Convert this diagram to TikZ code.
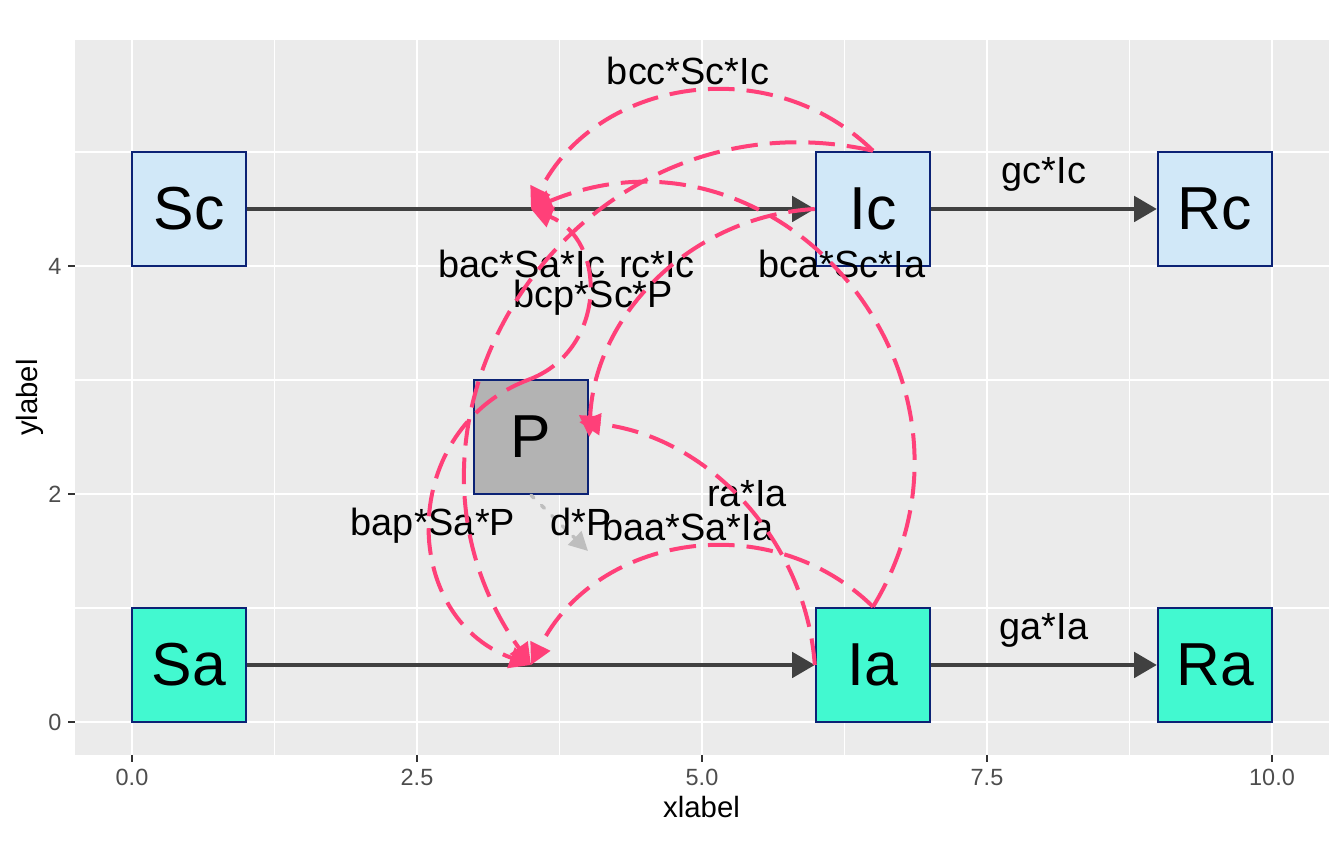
\documentclass[tikz,border=0pt]{standalone}
\usepackage{fontspec}
\setmainfont{Liberation Sans}
\usetikzlibrary{arrows.meta}
\definecolor{panel}{HTML}{EBEBEB}
\definecolor{cfill}{HTML}{D1E8F8}
\definecolor{afill}{HTML}{42F9D0}
\definecolor{pfill}{HTML}{B3B3B3}
\definecolor{rim}{HTML}{0B2275}
\definecolor{flowgrey}{HTML}{404040}
\definecolor{rosy}{HTML}{FF4079}
\definecolor{decaygrey}{HTML}{BEBEBE}
\definecolor{ticktext}{HTML}{4D4D4D}
\definecolor{tickline}{HTML}{333333}
\tikzset{
  comp/.style={draw=rim,line width=0.9pt,minimum size=42.75pt,inner sep=0pt,font=\fontsize{22.76}{25}\selectfont},
  flowarrow/.style={draw=flowgrey,line width=1.5pt,-{Triangle[length=8.5pt,width=9.5pt]}},
  inter/.style={draw=rosy,line width=1.5pt,dash pattern=on 10pt off 4.5pt,-{Triangle[length=8pt,width=8pt]}},
  decayline/.style={draw=decaygrey,line width=1.3pt,line cap=round,dash pattern=on 1.5pt off 4pt,-{Triangle[length=7pt,width=7pt]}},
  rate/.style={font=\fontsize{14.2}{16}\selectfont,anchor=base,inner sep=0pt},
  ticklab/.style={font=\fontsize{8.8}{10}\selectfont,text=ticktext,inner sep=0pt},
  axtitle/.style={font=\fontsize{11}{13}\selectfont,anchor=base,inner sep=0pt},
}
\begin{document}
\begin{tikzpicture}[x=42.75pt,y=42.75pt]
\useasboundingbox (-1.1579,-1.2544) rectangle (10.6316,6.3333);
% panel and grid
\fill[panel] (-0.5,-0.2895) rectangle (10.5,5.982);
\foreach \g in {1.25,3.75,6.25,8.75} \draw[white,line width=0.55pt] (\g,-0.2895) -- (\g,5.982);
\foreach \g in {1,3,5} \draw[white,line width=0.55pt] (-0.5,\g) -- (10.5,\g);
\foreach \g in {0,2.5,5,7.5,10} \draw[white,line width=1.1pt] (\g,-0.2895) -- (\g,5.982);
\foreach \g in {0,2,4} \draw[white,line width=1.1pt] (-0.5,\g) -- (10.5,\g);
% axes
\foreach \g/\t in {0/0.0,2.5/2.5,5/5.0,7.5/7.5,10/10.0} {
  \draw[tickline,line width=0.8pt] (\g,-0.2895) -- ++(0,-2.75pt);
  \node[ticklab,anchor=base] at (\g,-0.553) {\t};
}
\foreach \g in {0,2,4} {
  \draw[tickline,line width=0.8pt] (-0.5,\g) -- ++(-2.75pt,0);
  \node[ticklab,anchor=east] at (-0.614,\g) {\g};
}
\node[axtitle] (xt) at (4.996,-0.842) {xlabel};
\node[axtitle,rotate=90] (yt) at (-0.833,2.846) {ylabel};
% compartments
\node[comp,fill=cfill] (Sc) at (0.5,4.5) {Sc};
\node[comp,fill=cfill] (Ic) at (6.5,4.5) {Ic};
\node[comp,fill=cfill] (Rc) at (9.5,4.5) {Rc};
\node[comp,fill=pfill] (P) at (3.5,2.5) {P};
\node[comp,fill=afill] (Sa) at (0.5,0.5) {Sa};
\node[comp,fill=afill] (Ia) at (6.5,0.5) {Ia};
\node[comp,fill=afill] (Ra) at (9.5,0.5) {Ra};
% flows
\draw[flowarrow] (Sc) -- (Ic);
\draw[flowarrow] (Ic) -- (Rc);
\draw[flowarrow] (Sa) -- (Ia);
\draw[flowarrow] (Ia) -- (Ra);
\coordinate (mc) at (3.5,4.5);
\coordinate (ma) at (3.5,0.5);
\coordinate (dz) at (4,1.5);
\draw[decayline] (P.south) -- (dz);
% rate labels
\node[rate] (lgc) at (8,4.72) {gc*Ic};
\node[rate] (lga) at (8,0.72) {ga*Ia};
\node[rate] (lbcc) at (4.877,5.588) {bcc*Sc*Ic};
\node[rate] (lbac) at (3.421,3.895) {bac*Sa*Ic};
\node[rate] (lrc) at (4.605,3.895) {rc*Ic};
\node[rate] (lbca) at (6.228,3.895) {bca*Sc*Ia};
\node[rate] (lbcp) at (4.044,3.640) {bcp*Sc*P};
\node[rate] (lbap) at (2.640,1.640) {bap*Sa*P};
\node[rate] (ldp) at (3.939,1.640) {d*P};
\node[rate] (lbaa) at (4.877,1.596) {baa*Sa*Ia};
\node[rate] (lra) at (5.395,1.886) {ra*Ia};
% interactions
\draw[inter] (Ic.north) to[bend right=54,looseness=1.07] (mc);
\draw[inter] (Ia.north) to[bend right=72,looseness=1.30] (mc);
\draw[inter] (P.north) to[bend right=68,looseness=1.24] (mc);
\draw[inter] (Ic.north) to[bend right=69,looseness=1.25] (ma);
\draw[inter] (Ia.north) to[bend right=54,looseness=1.07] (ma);
\draw[inter] (P.north) to[bend right=70,looseness=1.27] (ma);
\draw[inter] (Ic.west) to[bend right=42,looseness=0.98] (P.east);
\draw[inter] (Ia.west) to[bend right=40,looseness=0.96] ([shift={(-3.75pt,5.6pt)}]P.east);
\end{tikzpicture}
\end{document}
